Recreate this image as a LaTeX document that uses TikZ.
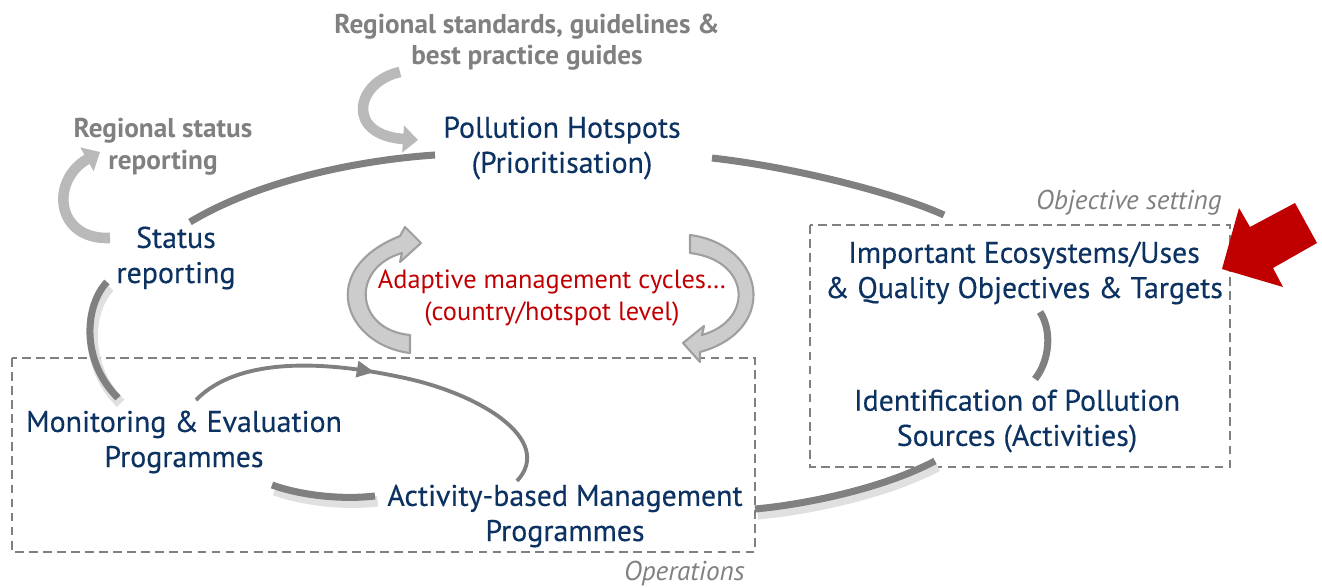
\documentclass[tikz,border=0pt]{standalone}
\usepackage{fontspec}
\setmainfont{PT Sans}
\newfontfamily\stagefont{PT Sans}[FakeBold=0.35]
\usetikzlibrary{arrows.meta,positioning,calc,decorations.markings}

\definecolor{inkblue}{RGB}{12,50,98}
\definecolor{arcgray}{RGB}{128,128,128}
\definecolor{notegray}{RGB}{128,128,128}
\definecolor{alertred}{RGB}{192,0,0}

\begin{document}
\begin{tikzpicture}[x=0.02cm, y=-0.02cm,
    stage/.style={text=inkblue, font=\stagefont\fontsize{17}{20}\selectfont, align=center, inner sep=1pt},
    remark/.style={text=notegray, font=\fontsize{15.5}{18}\selectfont\bfseries, align=center},
    tag/.style={text=notegray, font=\fontsize{15.5}{18}\selectfont\itshape, inner sep=0pt},
    zone/.style={draw=arcgray, dash pattern=on 5pt off 3pt, line width=1.3pt},
    ringline/.style={draw=arcgray, line width=4pt},
    ringshadow/.style={draw=black!12, line width=6pt, transform canvas={xshift=1.5pt,yshift=-3pt}},
    loopline/.style={draw=arcgray, line width=2.2pt},
    feedarrow/.style={draw=gray!55, line width=6pt, -{Triangle[width=15pt,length=8.5pt]}},
    bandarrow/.style={fill=gray!40, draw=gray!75, line width=1.2pt, line join=round}]

    \useasboundingbox (0,0) rectangle (1322,588);

    % Boxes
    \draw [zone] (12,358) rectangle (755,552);
    \draw [zone] (810,225) rectangle (1230,467);
    \node [tag, anchor=east] (objtag) at (1222,203) {Objective setting};
    \node [tag, anchor=east] (optag) at (745,574) {Operations};

    % Stages
    \node [stage] (hot) at (562,148) {Pollution Hotspots\\(Prioritisation)};
    \node [stage] (eco) at (1024,273) {Important Ecosystems/Uses\\\& Quality Objectives \& Targets};
    \node [stage] (src) at (1017,421) {Identification of Pollution\\Sources (Activities)};
    \node [stage] (act) at (565,516) {Activity-based Management\\Programmes};
    \node [stage] (mon) at (184,442) {Monitoring \& Evaluation\\Programmes};
    \node [stage] (stat) at (176,258) {Status\\reporting};

    % Notes
    \node [remark] (std) at (527,42) {Regional standards, guidelines \&\\best practice guides};
    \node [remark] (regst) at (163,147) {Regional status\\reporting};

    % Main cycle
    \draw [ringshadow] ([shift={(-82,40)}]src.center) .. controls (880,490) and (800,505) .. ([shift={(190,-7)}]act.center);
    \draw [ringshadow] ([shift={(-190,-20)}]act.center) .. controls (340,500) and (300,495) .. ([shift={(88,43)}]mon.center);
    \draw [ringshadow] ([shift={(-66,-44)}]mon.center) .. controls (80,360) and (85,305) .. ([shift={(-69,24)}]stat.center);
    \draw [ringline] ([shift={(14,-36)}]stat.center) .. controls (260,180) and (360,160) .. ([shift={(-127,7)}]hot.center);
    \draw [ringline] ([shift={(150,10)}]hot.center) .. controls (800,168) and (900,195) .. ([shift={(-80,-58)}]eco.center);
    \draw [ringline] ([shift={(16,39)}]eco.center) .. controls (1052,330) and (1050,360) .. ([shift={(18,-42)}]src.center);
    \draw [ringline] ([shift={(-82,40)}]src.center) .. controls (880,490) and (800,505) .. ([shift={(190,-7)}]act.center);
    \draw [ringline] ([shift={(-190,-20)}]act.center) .. controls (340,500) and (300,495) .. ([shift={(88,43)}]mon.center);
    \draw [ringline] ([shift={(-66,-44)}]mon.center) .. controls (80,360) and (85,305) .. ([shift={(-69,24)}]stat.center);

    % Operations loop
    \draw [loopline, postaction={decorate}, decoration={markings, mark=at position 0.47 with {\arrow{Triangle[width=9pt,length=10pt]}}}]
        ([shift={(12,-42)}]mon.center) .. controls (240,355) and (330,362) .. (400,377)
        .. controls (480,393) and (555,440) .. ([shift={(-48,-35)}]act.center);

    % Feedback arrows
    \draw [feedarrow] ([shift={(-127,30)}]std.center) .. controls (355,82) and (345,135) .. ([shift={(-144,-8)}]hot.center);
    \draw [feedarrow] ([shift={(-66,-20)}]stat.center) .. controls (55,240) and (50,180) .. ([shift={(-63,5)}]regst.center);

    % Adaptive cycle arrows
    \filldraw [bandarrow] (410,353) .. controls (345,345) and (315,270) .. (400,236) -- (405,227) -- (421,243)
        -- (400,262) -- (402,253) .. controls (350,268) and (355,330) .. (410,335) -- cycle;
    \filldraw [bandarrow] (690,235) .. controls (765,245) and (780,330) .. (700,352) -- (700,362) -- (683,343)
        -- (704,326) -- (702,335) .. controls (755,320) and (750,260) .. (690,253) -- cycle;
    \node [text=alertred, font=\fontsize{15}{18}\selectfont, align=center] (adapt) at (552,298) {Adaptive management cycles…\\(country/hotspot level)};

    % Pointer
    \fill [alertred] (1222,269) -- (1239,208) -- (1250,227) -- (1295,203) -- (1317,243) -- (1273,268) -- (1283,287) -- cycle;

\end{tikzpicture}
\end{document}
